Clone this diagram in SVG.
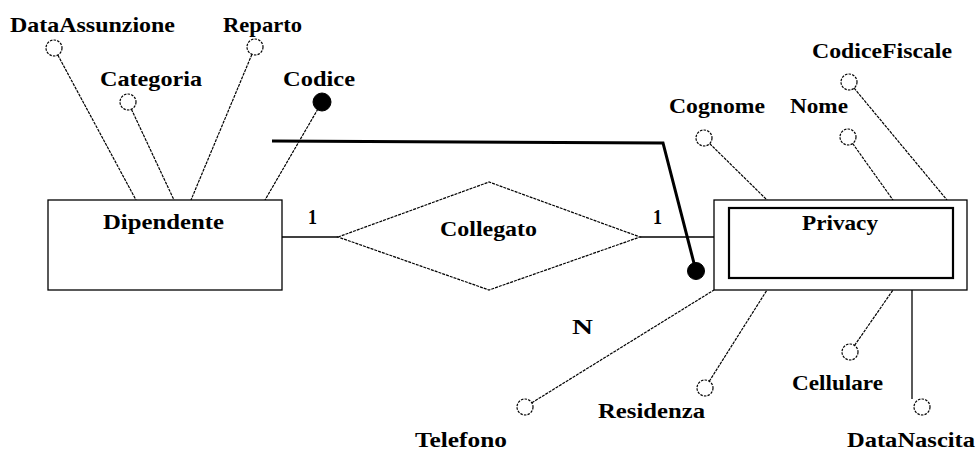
<svg xmlns="http://www.w3.org/2000/svg" width="979" height="452" viewBox="0 0 979 452">
<style>
text{font-family:"Liberation Serif","Times New Roman",serif;font-weight:bold;font-size:22px;fill:#000}
.ent{fill:#fff;stroke:#000;stroke-width:1.3}
.inner{fill:none;stroke:#000;stroke-width:2.2}
.rel{fill:#fff;stroke:#000;stroke-width:1.2;stroke-dasharray:3 1}
.att{fill:#fff;stroke:#000;stroke-width:1.2;stroke-dasharray:2.5 1.2}
.key{fill:#000;stroke:#000}
.al{stroke:#000;stroke-width:1.2;stroke-dasharray:3 1;fill:none}
.sl{stroke:#000;stroke-width:1.3;fill:none}
.thick{stroke:#000;stroke-width:3;fill:none;stroke-linejoin:miter}
</style>
<rect width="979" height="452" fill="#fff"/>
<g id="connectors">
<line class="al" x1="54" y1="48" x2="136" y2="200"/>
<line class="al" x1="128" y1="102" x2="174" y2="200"/>
<line class="al" x1="255" y1="47" x2="191" y2="200"/>
<line class="al" x1="322" y1="102" x2="265" y2="200"/>
<line class="sl" x1="282" y1="237" x2="338" y2="237"/>
<line class="sl" x1="640" y1="237" x2="714" y2="237"/>
<line class="al" x1="704" y1="138" x2="767" y2="200"/>
<line class="al" x1="848" y1="137" x2="893" y2="200"/>
<line class="al" x1="849" y1="82" x2="947" y2="200"/>
<line class="al" x1="525" y1="407" x2="714" y2="290"/>
<line class="al" x1="705" y1="388" x2="767" y2="290"/>
<line class="al" x1="850" y1="352" x2="893" y2="290"/>
<line class="sl" x1="912" y1="290" x2="912" y2="399"/>
<polyline class="thick" points="272,141 663,143 696,271"/>
<circle class="key" cx="696" cy="271" r="8.5"/>
</g>
<g id="dipendente">
<rect class="ent" x="48" y="200" width="234" height="90"/>
<text x="103" y="229" textLength="121" lengthAdjust="spacingAndGlyphs">Dipendente</text>
</g>
<g id="collegato">
<polygon class="rel" points="338,237 489,182 640,237 489,290"/>
<text x="440" y="236" textLength="97" lengthAdjust="spacingAndGlyphs">Collegato</text>
<text x="308" y="224" textLength="9" lengthAdjust="spacingAndGlyphs">1</text>
<text x="653" y="224" textLength="9" lengthAdjust="spacingAndGlyphs">1</text>
<text x="572" y="334" textLength="21" lengthAdjust="spacingAndGlyphs">N</text>
</g>
<g id="privacy">
<rect class="ent" x="714" y="200" width="253" height="90"/>
<rect class="inner" x="729" y="208" width="224" height="70"/>
<text x="802" y="230" textLength="76" lengthAdjust="spacingAndGlyphs">Privacy</text>
</g>
<g id="attr-dataassunzione">
<circle class="att" cx="54" cy="48" r="8"/>
<text x="10" y="32" textLength="165" lengthAdjust="spacingAndGlyphs">DataAssunzione</text>
</g>
<g id="attr-categoria">
<circle class="att" cx="128" cy="102" r="8"/>
<text x="100" y="86" textLength="102" lengthAdjust="spacingAndGlyphs">Categoria</text>
</g>
<g id="attr-reparto">
<circle class="att" cx="255" cy="47" r="8"/>
<text x="223" y="32" textLength="79" lengthAdjust="spacingAndGlyphs">Reparto</text>
</g>
<g id="attr-codice">
<circle class="key" cx="322" cy="102" r="9"/>
<text x="283" y="86" textLength="72" lengthAdjust="spacingAndGlyphs">Codice</text>
</g>
<g id="attr-cognome">
<circle class="att" cx="704" cy="138" r="8"/>
<text x="669" y="113" textLength="96" lengthAdjust="spacingAndGlyphs">Cognome</text>
</g>
<g id="attr-nome">
<circle class="att" cx="848" cy="137" r="8"/>
<text x="790" y="113" textLength="58" lengthAdjust="spacingAndGlyphs">Nome</text>
</g>
<g id="attr-codicefiscale">
<circle class="att" cx="849" cy="82" r="8"/>
<text x="812" y="58" textLength="140" lengthAdjust="spacingAndGlyphs">CodiceFiscale</text>
</g>
<g id="attr-telefono">
<circle class="att" cx="525" cy="407" r="8"/>
<text x="415" y="447" textLength="92" lengthAdjust="spacingAndGlyphs">Telefono</text>
</g>
<g id="attr-residenza">
<circle class="att" cx="705" cy="388" r="8"/>
<text x="598" y="418" textLength="107" lengthAdjust="spacingAndGlyphs">Residenza</text>
</g>
<g id="attr-cellulare">
<circle class="att" cx="850" cy="352" r="8"/>
<text x="792" y="390" textLength="91" lengthAdjust="spacingAndGlyphs">Cellulare</text>
</g>
<g id="attr-datanascita">
<circle class="att" cx="922" cy="407" r="8"/>
<text x="847" y="447" textLength="128" lengthAdjust="spacingAndGlyphs">DataNascita</text>
</g>
</svg>
